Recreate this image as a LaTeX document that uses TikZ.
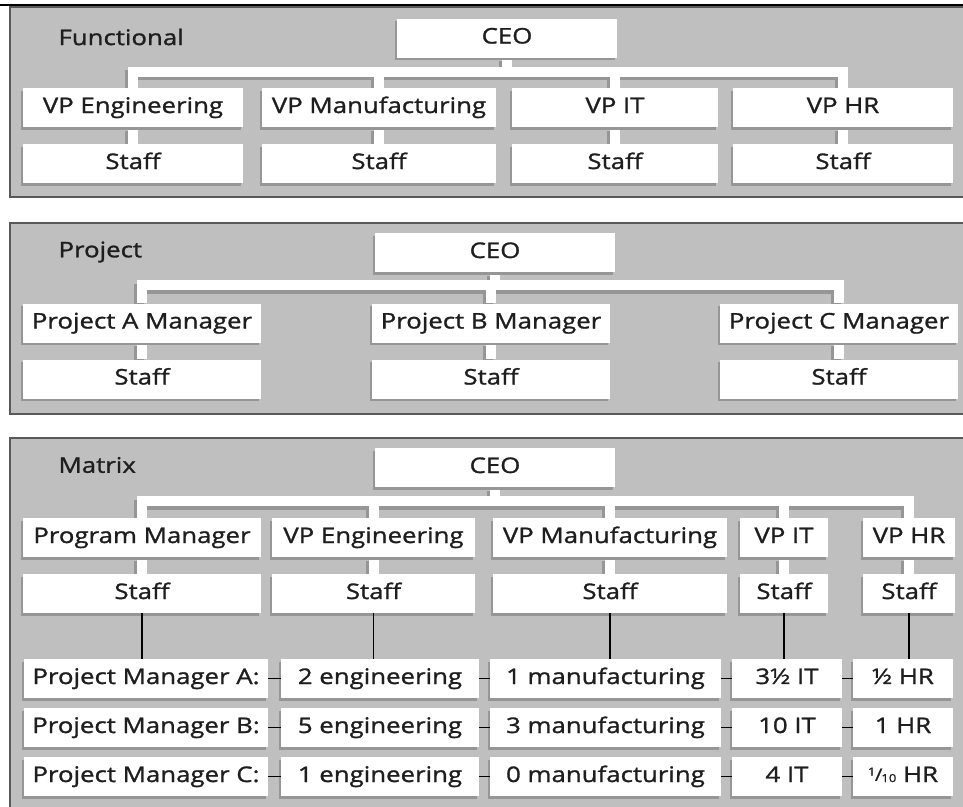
\documentclass[tikz,border=0pt]{standalone}
\usepackage{fontspec}
\setmainfont{Open Sans}[FakeStretch=1.2,FakeBold=1.2]
\usetikzlibrary{positioning,shadows}
\pgfdeclarelayer{panel}
\pgfdeclarelayer{wires}
\pgfsetlayers{panel,wires,main}
\definecolor{panelgray}{RGB}{191,191,191}
\definecolor{shade}{RGB}{150,150,150}
\definecolor{ink}{RGB}{30,30,30}
\newcommand\onetenth{{\fontsize{11}{11}\selectfont\raisebox{1.1ex}{1}\kern-.05em\raisebox{.2ex}{\fontsize{17}{17}\selectfont/}\kern-.1em{10}}}
\begin{document}
\begin{tikzpicture}[x=1pt,y=-1pt,node distance=56pt,
    box/.style={fill=white,text=ink,inner sep=0pt,minimum height=39pt,
      font=\fontsize{21.5}{24}\selectfont,text height=15.5pt,text depth=4.5pt,
      drop shadow={shadow xshift=-2.5pt,shadow yshift=-2.5pt,fill=shade,opacity=1}},
    title/.style={anchor=west,text=ink,font=\fontsize{21.5}{24}\selectfont},
    link/.style={draw=white,line width=10pt},
    linkshade/.style={draw=shade,line width=10pt},
    tie/.style={draw=black,line width=1.8pt},
    panelbox/.style={fill=panelgray,draw=black!65,line width=1.6pt}
  ]
    \useasboundingbox (0,0) rectangle (963,806);

    % Functional
    \node[title] (ft) at (55,37) {Functional};
    \node[box,minimum width=220pt] (f0) at (507,38) {CEO};
    \node[box,minimum width=220pt] (f1) at (133,107.5) {VP Engineering};
    \node[box,minimum width=234pt] (f2) at (379,107.5) {VP Manufacturing};
    \node[box,minimum width=206pt] (f3) at (615,107.5) {VP IT};
    \node[box,minimum width=220pt] (f4) at (843,107.5) {VP HR};
    \node[box,minimum width=220pt,below of=f1] (fs1) {Staff};
    \node[box,minimum width=234pt,below of=f2] (fs2) {Staff};
    \node[box,minimum width=206pt,below of=f3] (fs3) {Staff};
    \node[box,minimum width=220pt,below of=f4] (fs4) {Staff};

    % Project
    \node[title] (pt) at (55,252) {Project};
    \node[box,minimum width=240pt] (p0) at (495,252.5) {CEO};
    \node[box,minimum width=238pt] (p1) at (142,323) {Project A Manager};
    \node[box,minimum width=238pt] (p2) at (491,323) {Project B Manager};
    \node[box,minimum width=238pt] (p3) at (839,323) {Project C Manager};
    \node[box,minimum width=238pt,below of=p1] (ps1) {Staff};
    \node[box,minimum width=238pt,below of=p2] (ps2) {Staff};
    \node[box,minimum width=238pt,below of=p3] (ps3) {Staff};

    % Matrix
    \node[title] (mt) at (55,465) {Matrix};
    \node[box,minimum width=240pt] (m0) at (495,467.5) {CEO};
    \node[box,minimum width=238pt] (m1) at (142,537.5) {Program Manager};
    \node[box,minimum width=203pt] (m2) at (373.5,537.5) {VP Engineering};
    \node[box,minimum width=234pt] (m3) at (610,537.5) {VP Manufacturing};
    \node[box,minimum width=88pt] (m4) at (784,537.5) {VP IT};
    \node[box,minimum width=92pt] (m5) at (909,537.5) {VP HR};
    \node[box,minimum width=238pt,below of=m1] (ms1) {Staff};
    \node[box,minimum width=203pt,below of=m2] (ms2) {Staff};
    \node[box,minimum width=234pt,below of=m3] (ms3) {Staff};
    \node[box,minimum width=88pt,below of=m4] (ms4) {Staff};
    \node[box,minimum width=92pt,below of=m5] (ms5) {Staff};

    \node[box,minimum width=244pt] (a1) at (146,678.5) {Project Manager A:};
    \node[box,minimum width=198pt] (a2) at (380,678.5) {2 engineering};
    \node[box,minimum width=231pt] (a3) at (605.5,678.5) {1 manufacturing};
    \node[box,minimum width=110pt] (a4) at (787,678.5) {3½ IT};
    \node[box,minimum width=100pt] (a5) at (903,678.5) {½ HR};
    \node[box,minimum width=244pt,below of=a1,node distance=49pt] (b1) {Project Manager B:};
    \node[box,minimum width=198pt,below of=a2,node distance=49pt] (b2) {5 engineering};
    \node[box,minimum width=231pt,below of=a3,node distance=49pt] (b3) {3 manufacturing};
    \node[box,minimum width=110pt,below of=a4,node distance=49pt] (b4) {10 IT};
    \node[box,minimum width=100pt,below of=a5,node distance=49pt] (b5) {1 HR};
    \node[box,minimum width=244pt,below of=b1,node distance=49pt] (c1) {Project Manager C:};
    \node[box,minimum width=198pt,below of=b2,node distance=49pt] (c2) {1 engineering};
    \node[box,minimum width=231pt,below of=b3,node distance=49pt] (c3) {0 manufacturing};
    \node[box,minimum width=110pt,below of=b4,node distance=49pt] (c4) {4 IT};
    \node[box,minimum width=100pt,below of=b5,node distance=49pt] (c5) {\onetenth\ HR};

    \foreach \k in {1,...,5}
      \draw[tie] (ms\k) -- (ms\k |- a\k.north);
    \foreach \r in {a,b,c}
      \foreach \i/\j in {1/2,2/3,3/4,4/5}
        \draw[tie] (\r\i) -- (\r\j);

    \begin{pgfonlayer}{panel}
      \draw[panelbox] (10,7) rectangle (966,197);
      \draw[panelbox] (10,223) rectangle (966,414);
      \draw[panelbox] (10,438) rectangle (966,812);
      \draw[black,line width=2pt] (0,5) -- (963,5);
    \end{pgfonlayer}

    \begin{pgfonlayer}{wires}
      \begin{scope}[transform canvas={shift={(-3,3.5)}}]
        \foreach \v/\s in {f1/fs1,f2/fs2,f3/fs3,f4/fs4}
          \draw[linkshade] (f0.south) -- ++(0,14) -| (\v.north) (\v) -- (\s);
        \foreach \v/\s in {p1/ps1,p2/ps2,p3/ps3}
          \draw[linkshade] (p0.south) -- ++(0,13) -| (\v.north) (\v) -- (\s);
        \foreach \v/\s in {m1/ms1,m2/ms2,m3/ms3,m4/ms4,m5/ms5}
          \draw[linkshade] (m0.south) -- ++(0,14) -| (\v.north) (\v) -- (\s);
      \end{scope}
      \foreach \v/\s in {f1/fs1,f2/fs2,f3/fs3,f4/fs4}
        \draw[link] (f0.south) -- ++(0,14) -| (\v.north) (\v) -- (\s);
      \foreach \v/\s in {p1/ps1,p2/ps2,p3/ps3}
        \draw[link] (p0.south) -- ++(0,13) -| (\v.north) (\v) -- (\s);
      \foreach \v/\s in {m1/ms1,m2/ms2,m3/ms3,m4/ms4,m5/ms5}
        \draw[link] (m0.south) -- ++(0,14) -| (\v.north) (\v) -- (\s);
    \end{pgfonlayer}

\end{tikzpicture}
\end{document}
